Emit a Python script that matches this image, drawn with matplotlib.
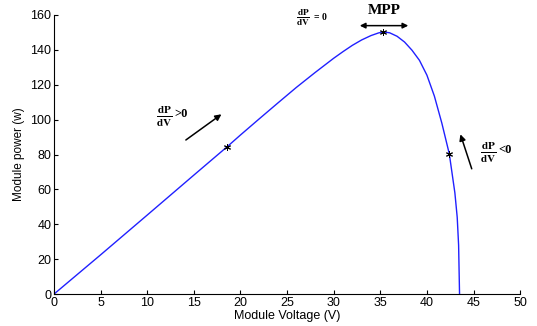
#!/usr/bin/env python3
"""PV module power vs voltage curve with MPP annotations."""

import matplotlib
matplotlib.use("Agg")
import matplotlib.pyplot as plt

# values
voltage = [0, 5, 10, 15, 18.6, 20, 22, 24, 26, 28, 30, 31, 32, 33, 34, 34.8, 35.3,
           36.0, 36.8, 37.6, 38.4, 39.2, 40.0, 40.8, 41.6, 42.4, 43.0, 43.25, 43.4, 43.5]
power = [0, 22.5, 45.3, 68.2, 84.6, 91.2, 100.4, 109.5, 118.5, 127, 135.2, 139, 142.6,
         145.7, 148.2, 149.7, 150.3,
         149.8, 147.8, 144.5, 139.8, 134, 125.5, 113.5, 98, 80.4, 58, 44, 28, 0]

marked_v = [18.6, 35.3, 42.4]
marked_p = [84.6, 150.3, 80.4]

x_ticks = [0, 5, 10, 15, 20, 25, 30, 35, 40, 45, 50]
y_ticks = [0, 20, 40, 60, 80, 100, 120, 140, 160]

plt.rcParams["font.family"] = ["Liberation Sans", "DejaVu Sans"]
plt.rcParams["mathtext.fontset"] = "stix"

fig = plt.figure(figsize=(5.37, 3.26), dpi=100)
ax = fig.add_axes([0.1006, 0.098, 0.868, 0.856])

ax.plot(voltage, power, color="#2020ff", linewidth=1.0)
ax.plot(marked_v, marked_p, linestyle="none", marker=(6, 2, 0), color="black",
        markersize=5, markeredgewidth=0.7)

ax.set_xlim(0, 50)
ax.set_ylim(0, 160)
ax.set_xticks(x_ticks)
ax.set_yticks(y_ticks)
ax.tick_params(direction="in", length=3, labelsize=9, pad=2, width=0.8)
ax.spines["top"].set_visible(False)
ax.spines["right"].set_visible(False)
ax.set_xlabel("Module Voltage (V)", fontsize=9, labelpad=1)
ax.set_ylabel("Module power (w)", fontsize=8.5, labelpad=4)

serif = "Liberation Serif"
frac = r"$\frac{\mathbf{dP}}{\mathbf{dV}}$"

# dP/dV > 0 on the rising side
ax.annotate("", xy=(18.2, 104), xytext=(13.9, 87.4),
            arrowprops=dict(arrowstyle="-|>", color="black", lw=1.1, mutation_scale=9))
ax.text(11.8, 101.5, frac, fontsize=11.5, ha="center", va="center")
ax.text(12.9, 103, ">0", family=serif, fontweight="bold", fontsize=9, ha="left", va="center")

# dP/dV = 0 at the peak
ax.text(26.7, 158.3, frac, fontsize=9.5, ha="center", va="center", clip_on=False)
ax.text(27.9, 158.6, "= 0", family=serif, fontweight="bold", fontsize=7, ha="left", va="center", clip_on=False)
ax.text(35.4, 162.5, "MPP", family=serif, fontweight="bold", fontsize=11, ha="center", va="center", clip_on=False)
ax.annotate("", xy=(38.3, 153.9), xytext=(32.5, 153.9),
            arrowprops=dict(arrowstyle="<|-|>", color="black", lw=1.1, mutation_scale=8))

# dP/dV < 0 on the falling side
ax.annotate("", xy=(43.5, 93.1), xytext=(44.9, 70.3),
            arrowprops=dict(arrowstyle="-|>", color="black", lw=1.1, mutation_scale=9))
ax.text(46.6, 81, frac, fontsize=11.5, ha="center", va="center", clip_on=False)
ax.text(47.7, 82.5, "<0", family=serif, fontweight="bold", fontsize=9, ha="left", va="center", clip_on=False)

fig.savefig("out.png", dpi=100)
plt.close(fig)
